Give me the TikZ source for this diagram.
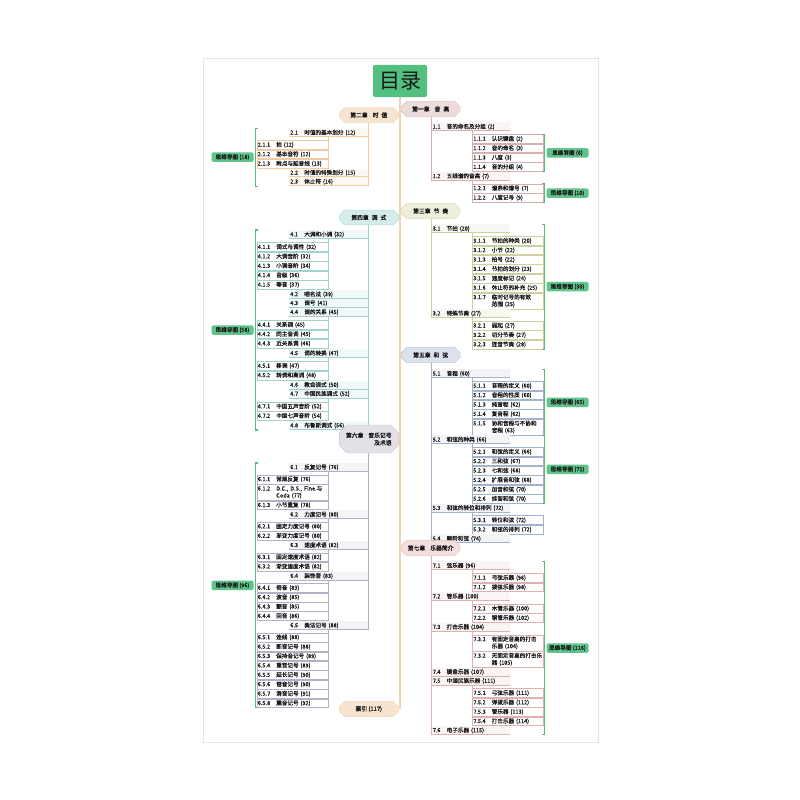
\documentclass[tikz,border=0pt]{standalone}
\usepackage{fontspec}
\setmainfont{Noto Sans CJK SC}
\newfontfamily\cjkB[FakeBold=1.6]{Noto Sans CJK SC}
\newfontfamily\cjkM[FakeBold=0.7]{Noto Sans CJK SC}
\usetikzlibrary{calc,shapes.misc}
\definecolor{c1}{HTML}{D8AEAE}\definecolor{b1}{HTML}{ECDCDC}
\definecolor{c2}{HTML}{F2CBA2}\definecolor{b2}{HTML}{F7E4D0}
\definecolor{c3}{HTML}{CFCF9F}\definecolor{b3}{HTML}{EDEEDB}
\definecolor{c4}{HTML}{9ED3CE}\definecolor{b4}{HTML}{D6ECEA}
\definecolor{c5}{HTML}{A3B3CB}\definecolor{b5}{HTML}{DCE2EB}
\definecolor{c6}{HTML}{B6AFC6}\definecolor{b6}{HTML}{E3E1E8}
\definecolor{c7}{HTML}{E2B0B0}\definecolor{b7}{HTML}{F3DDDD}
\definecolor{gline}{HTML}{56BD78}\definecolor{gfill}{HTML}{5EC48A}
\definecolor{tgreen}{HTML}{52C07E}\definecolor{trunkc}{HTML}{EFD3B4}
\definecolor{cur}{HTML}{D8AEAE}
\newcommand\fs{\cjkM\fontsize{5.6}{7}\selectfont}
\newcommand\fsb{\cjkB\fontsize{5.8}{7.5}\selectfont}
\newcommand\nA[1]{\makebox[14pt][l]{#1}}
\newcommand\nB[1]{\makebox[18.5pt][l]{#1}}
% right side
\newcommand\Rb[5]{\node[ltwo,anchor=north west] (#1) at ($(#2.south -| xR2)+(0,#3)$) {\nA{#4}#5};}
\newcommand\Rc[5]{\node[lthree,anchor=north west] (#1) at ($(#2.south -| xR3)+(0,#3)$) {\nB{#4}#5};}
\newcommand\Rd[6]{\node[lthree,minimum height=16pt,anchor=north west] (#1) at ($(#2.south -| xR3)+(0,#3)$) {\nB{#4}#5\\\nB{}#6};}
% left side
\newcommand\Lb[5]{\node[ltwo,anchor=north east] (#1) at ($(#2.south -| xL2)+(0,#3)$) {\nA{#4}#5};}
\newcommand\Lc[5]{\node[lthree,anchor=north east] (#1) at ($(#2.south -| xL3)+(0,#3)$) {\nB{#4}#5};}
\newcommand\Ld[6]{\node[lthree,minimum height=16pt,anchor=north east] (#1) at ($(#2.south -| xL3)+(0,#3)$) {\nB{#4}#5\\\nB{}#6};}
% green brackets
\newcommand\GR[4]{%
 \draw[gbr] ($(#2.north -| xRB)+(-2.5,0)$) -- (#2.north -| xRB) -- (#3.south -| xRB) -- ($(#3.south -| xRB)+(-2.5,0)$);
 \node[gnode,anchor=west] (#1) at ($(#2.north -| xRB)!0.5!(#3.south -| xRB)+(1.8,0)$) {#4};}
\newcommand\GL[4]{%
 \draw[gbr] ($(#2.north -| xLB)+(2.5,0)$) -- (#2.north -| xLB) -- (#3.south -| xLB) -- ($(#3.south -| xLB)+(2.5,0)$);
 \node[gnode,anchor=east] (#1) at ($(#2.north -| xLB)!0.5!(#3.south -| xLB)+(-1.8,0)$) {#4};}
\begin{document}
\begin{tikzpicture}[x=1pt,y=-1pt,
  ltwo/.style={fill=cur!14,minimum width=79pt,minimum height=8.5pt,text width=76pt,
    inner xsep=1.5pt,inner ysep=0pt,align=left,font=\fs,text=black!90,
    path picture={\draw[cur,line width=1.2pt] (path picture bounding box.south west) -- (path picture bounding box.south east);}},
  lthree/.style={draw=cur,line width=0.5pt,fill=white,minimum width=71pt,minimum height=8.9pt,
    text width=69pt,inner xsep=1pt,inner ysep=0.8pt,align=left,font=\fs,text=black!90},
  tree/.style={draw=cur,line width=0.8pt},
  chb/.style={chamfered rectangle,chamfered rectangle xsep=1.5pt,draw=cur!80,line width=0.4pt,
    minimum width=59pt,minimum height=14pt,inner sep=1pt,font=\fsb,text=black!90},
  gbr/.style={draw=gline,line width=1.1pt},
  gnode/.style={fill=gfill,rounded corners=1.5pt,minimum width=42pt,minimum height=9.5pt,
    inner sep=0.5pt,font=\fs,text=black!90},
  trunk/.style={draw=trunkc,line width=1.5pt}]
\fill[white] (0,0) rectangle (800,800);
\path[use as bounding box] (0,0) rectangle (800,800);
\draw[black!10,fill=white] (203,58) rectangle (598,742);
\coordinate (xR2) at (431,0);
\coordinate (xR3) at (472,0);
\coordinate (xRB) at (544.5,0);
\coordinate (xL2) at (368,0);
\coordinate (xL3) at (328,0);
\coordinate (xLB) at (255.5,0);

\node[fill=tgreen,rounded corners=2pt,minimum width=54pt,minimum height=32pt,
  font=\fontsize{21}{24}\selectfont,text=black!90] (title) at (400,81) {目录};
\colorlet{cur}{c2}
\node[chb,fill=b2,anchor=east] (idx) at (398.5,709) {索引 (117)};
\draw[trunk] (title.south) -- (title.south |- idx.east);

% ---------- Chapter 1 ----------
\colorlet{cur}{c1}
\node[chb,fill=b1,anchor=west] (ch1) at (401,109) {第一章\hspace{5pt}音\hspace{3pt}高};
\Rb{n11}{ch1}{5.75}{1.1}{音的命名及分组 (2)}
\Rc{n111}{n11}{3}{1.1.1}{认识键盘 (2)}
\Rc{n112}{n111}{0}{1.1.2}{音的命名 (3)}
\Rc{n113}{n112}{0}{1.1.3}{八度 (3)}
\Rc{n114}{n113}{0}{1.1.4}{音的分组 (4)}
\Rb{n12}{n114}{0}{1.2}{五线谱的音高 (7)}
\Rc{n121}{n12}{3}{1.2.1}{谱表和谱号 (7)}
\Rc{n122}{n121}{0}{1.2.2}{八度记号 (9)}
\draw[tree] (ch1.south -| xR2) -- (n12.south -| xR2);
\draw[tree] (n11.south -| xR3) -- (n114.south -| xR3);
\draw[tree] (n12.south -| xR3) -- (n122.south -| xR3);
\GR{m1}{n111}{n114}{思维导图 (6)}
\GR{m2}{n121}{n122}{思维导图 (10)}

% ---------- Chapter 2 ----------
\colorlet{cur}{c2}
\node[chb,fill=b2,anchor=east] (ch2) at (398.5,115) {第二章\hspace{5pt}时\hspace{3pt}值};
\Lb{n21}{ch2}{5.75}{2.1}{时值的基本划分 (12)}
\Lc{n211}{n21}{3}{2.1.1}{拍 (12)}
\Lc{n212}{n211}{0}{2.1.2}{基本音符 (12)}
\Lc{n213}{n212}{0}{2.1.3}{附点与延音线 (13)}
\Lb{n22}{n213}{0}{2.2}{时值的特殊划分 (15)}
\Lb{n23}{n22}{0}{2.3}{休止符 (16)}
\draw[tree] (ch2.south -| xL2) -- (n23.south -| xL2);
\draw[tree] (n21.south -| xL3) -- (n213.south -| xL3);
\GL{m3}{n21}{n23}{思维导图 (18)}

% ---------- Chapter 3 ----------
\colorlet{cur}{c3}
\node[chb,fill=b3,anchor=west] (ch3) at (401,211) {第三章\hspace{3pt}节\hspace{3pt}奏};
\Rb{n31}{ch3}{5.75}{3.1}{节拍 (20)}
\Rc{n311}{n31}{3}{3.1.1}{节拍的种类 (20)}
\Rc{n312}{n311}{0}{3.1.2}{小节 (22)}
\Rc{n313}{n312}{0}{3.1.3}{拍号 (22)}
\Rc{n314}{n313}{0}{3.1.4}{节拍的划分 (23)}
\Rc{n315}{n314}{0}{3.1.5}{速度标记 (24)}
\Rc{n316}{n315}{0}{3.1.6}{休止符的补充 (25)}
\Rd{n317}{n316}{0}{3.1.7}{临时记号的有效}{范围 (25)}
\Rb{n32}{n317}{0}{3.2}{特殊节奏 (27)}
\Rc{n321}{n32}{3}{3.2.1}{弱起 (27)}
\Rc{n322}{n321}{0}{3.2.2}{切分节奏 (27)}
\Rc{n323}{n322}{0}{3.2.3}{连音节奏 (28)}
\draw[tree] (ch3.south -| xR2) -- (n32.south -| xR2);
\draw[tree] (n31.south -| xR3) -- (n317.south -| xR3);
\draw[tree] (n32.south -| xR3) -- (n323.south -| xR3);
\GR{m4}{n31}{n323}{思维导图 (30)}

% ---------- Chapter 4 ----------
\colorlet{cur}{c4}
\node[chb,fill=b4,anchor=east] (ch4) at (398.5,217.5) {第四章\hspace{3pt}调\hspace{3pt}式};
\Lb{n41}{ch4}{5}{4.1}{大调和小调 (32)}
\Lc{n411}{n41}{3.5}{4.1.1}{调式与调性 (32)}
\Lc{n412}{n411}{0}{4.1.2}{大调音阶 (32)}
\Lc{n413}{n412}{0}{4.1.3}{小调音阶 (34)}
\Lc{n414}{n413}{0}{4.1.4}{音级 (36)}
\Lc{n415}{n414}{0}{4.1.5}{等音 (37)}
\Lb{n42}{n415}{0.5}{4.2}{唱名法 (39)}
\Lb{n43}{n42}{0}{4.3}{调号 (41)}
\Lb{n44}{n43}{0}{4.4}{调的关系 (45)}
\Lc{n441}{n44}{3.5}{4.4.1}{关系调 (45)}
\Lc{n442}{n441}{0}{4.4.2}{同主音调 (45)}
\Lc{n443}{n442}{0}{4.4.3}{近关系调 (46)}
\Lb{n45}{n443}{0.5}{4.5}{调的转换 (47)}
\Lc{n451}{n45}{3.5}{4.5.1}{移调 (47)}
\Lc{n452}{n451}{0}{4.5.2}{转调和离调 (48)}
\Lb{n46}{n452}{0.5}{4.6}{教会调式 (50)}
\Lb{n47}{n46}{0}{4.7}{中国民族调式 (52)}
\Lc{n471}{n47}{3.5}{4.7.1}{中国五声音阶 (52)}
\Lc{n472}{n471}{0}{4.7.2}{中国七声音阶 (54)}
\Lb{n48}{n472}{0.5}{4.8}{布鲁斯调式 (56)}
\draw[tree] (ch4.south -| xL2) -- (n48.south -| xL2);
\draw[tree] (n41.south -| xL3) -- (n415.south -| xL3);
\draw[tree] (n44.south -| xL3) -- (n443.south -| xL3);
\draw[tree] (n45.south -| xL3) -- (n452.south -| xL3);
\draw[tree] (n47.south -| xL3) -- (n472.south -| xL3);
\GL{m5}{n41}{n48}{思维导图 (58)}

% ---------- Chapter 5 ----------
\colorlet{cur}{c5}
\node[chb,fill=b5,anchor=west] (ch5) at (401,355) {第五章\hspace{3pt}和\hspace{3pt}弦};
\Rb{n51}{ch5}{6.75}{5.1}{音程 (60)}
\Rc{n511}{n51}{3}{5.1.1}{音程的定义 (60)}
\Rc{n512}{n511}{0}{5.1.2}{音程的性质 (60)}
\Rc{n513}{n512}{0}{5.1.3}{纯音程 (62)}
\Rc{n514}{n513}{0}{5.1.4}{复音程 (62)}
\Rd{n515}{n514}{0}{5.1.5}{协和音程与不协和}{音程 (63)}
\Rb{n52}{n515}{0}{5.2}{和弦的种类 (66)}
\Rc{n521}{n52}{3}{5.2.1}{和弦的定义 (66)}
\Rc{n522}{n521}{0}{5.2.2}{三和弦 (67)}
\Rc{n523}{n522}{0}{5.2.3}{七和弦 (68)}
\Rc{n524}{n523}{0}{5.2.4}{扩展音和弦 (68)}
\Rc{n525}{n524}{0}{5.2.5}{加音和弦 (70)}
\Rc{n526}{n525}{0}{5.2.6}{挂留和弦 (70)}
\Rb{n53}{n526}{0}{5.3}{和弦的转位和排列 (72)}
\Rc{n531}{n53}{3}{5.3.1}{转位和弦 (72)}
\Rc{n532}{n531}{0}{5.3.2}{和弦的排列 (72)}
\Rb{n54}{n532}{0}{5.4}{顺阶和弦 (74)}
\draw[tree] (ch5.south -| xR2) -- (n54.south -| xR2);
\draw[tree] (n51.south -| xR3) -- (n515.south -| xR3);
\draw[tree] (n52.south -| xR3) -- (n526.south -| xR3);
\draw[tree] (n53.south -| xR3) -- (n532.south -| xR3);
\GR{m6}{n51}{n515}{思维导图 (65)}
\GR{m7}{n52}{n526}{思维导图 (71)}

% ---------- Chapter 6 ----------
\colorlet{cur}{c6}
\node[chb,fill=b6,anchor=east,minimum height=28pt,chamfered rectangle xsep=4pt,align=right] (ch6) at (398.5,439) {第六章\hspace{5pt}音乐记号\\及术语};
\Lb{n61}{ch6}{9.75}{6.1}{反复记号 (76)}
\Lc{n611}{n61}{2.75}{6.1.1}{常规反复 (76)}
\Ld{n612}{n611}{0}{6.1.2}{D.C., D.S., Fine.与}{Coda (77)}
\Lc{n613}{n612}{0}{6.1.3}{小节重复 (78)}
\Lb{n62}{n613}{0.25}{6.2}{力度记号 (80)}
\Lc{n621}{n62}{2.75}{6.2.1}{固定力度记号 (80)}
\Lc{n622}{n621}{0}{6.2.2}{渐变力度记号 (80)}
\Lb{n63}{n622}{0.25}{6.3}{速度术语 (82)}
\Lc{n631}{n63}{2.75}{6.3.1}{固定速度术语 (82)}
\Lc{n632}{n631}{0}{6.3.2}{渐变速度术语 (82)}
\Lb{n64}{n632}{0.25}{6.4}{装饰音 (83)}
\Lc{n641}{n64}{2.75}{6.4.1}{倚音 (83)}
\Lc{n642}{n641}{0}{6.4.2}{波音 (85)}
\Lc{n643}{n642}{0}{6.4.3}{颤音 (85)}
\Lc{n644}{n643}{0}{6.4.4}{回音 (86)}
\Lb{n65}{n644}{0.25}{6.5}{奏法记号 (88)}
\Lc{n651}{n65}{2.75}{6.5.1}{连线 (88)}
\Lc{n652}{n651}{0}{6.5.2}{断音记号 (88)}
\Lc{n653}{n652}{0}{6.5.3}{保持音记号 (89)}
\Lc{n654}{n653}{0}{6.5.4}{重音记号 (89)}
\Lc{n655}{n654}{0}{6.5.5}{延长记号 (90)}
\Lc{n656}{n655}{0}{6.5.6}{琶音记号 (90)}
\Lc{n657}{n656}{0}{6.5.7}{滑音记号 (91)}
\Lc{n658}{n657}{0}{6.5.8}{震音记号 (92)}
\draw[tree] (ch6.south -| xL2) -- (n65.south -| xL2);
\draw[tree] (n61.south -| xL3) -- (n613.south -| xL3);
\draw[tree] (n62.south -| xL3) -- (n622.south -| xL3);
\draw[tree] (n63.south -| xL3) -- (n632.south -| xL3);
\draw[tree] (n64.south -| xL3) -- (n644.south -| xL3);
\draw[tree] (n65.south -| xL3) -- (n658.south -| xL3);
\GL{m8}{n61}{n658}{思维导图 (96)}

% ---------- Chapter 7 ----------
\colorlet{cur}{c7}
\node[chb,fill=b7,anchor=west] (ch7) at (401,548) {第七章\hspace{5pt}乐器简介};
\Rb{n71}{ch7}{5.75}{7.1}{弦乐器 (96)}
\Rc{n711}{n71}{3}{7.1.1}{弓弦乐器 (96)}
\Rc{n712}{n711}{0}{7.1.2}{拨弦乐器 (98)}
\Rb{n72}{n712}{0}{7.2}{管乐器 (100)}
\Rc{n721}{n72}{3}{7.2.1}{木管乐器 (100)}
\Rc{n722}{n721}{0}{7.2.2}{铜管乐器 (102)}
\Rb{n73}{n722}{0}{7.3}{打击乐器 (104)}
\Rd{n731}{n73}{3}{7.3.1}{有固定音高的打击}{乐器 (104)}
\Rd{n732}{n731}{0}{7.3.2}{无固定音高的打击乐}{器 (105)}
\Rb{n74}{n732}{0}{7.4}{键盘乐器 (107)}
\Rb{n75}{n74}{0}{7.5}{中国民族乐器 (111)}
\Rc{n751}{n75}{3}{7.5.1}{弓弦乐器 (111)}
\Rc{n752}{n751}{0}{7.5.2}{弹拨乐器 (112)}
\Rc{n753}{n752}{0}{7.5.3}{管乐器 (113)}
\Rc{n754}{n753}{0}{7.5.4}{打击乐器 (114)}
\Rb{n76}{n754}{0}{7.6}{电子乐器 (115)}
\draw[tree] (ch7.south -| xR2) -- (n76.south -| xR2);
\draw[tree] (n71.south -| xR3) -- (n712.south -| xR3);
\draw[tree] (n72.south -| xR3) -- (n722.south -| xR3);
\draw[tree] (n73.south -| xR3) -- (n732.south -| xR3);
\draw[tree] (n75.south -| xR3) -- (n754.south -| xR3);
\GR{m9}{n71}{n76}{思维导图 (116)}
\end{tikzpicture}
\end{document}
